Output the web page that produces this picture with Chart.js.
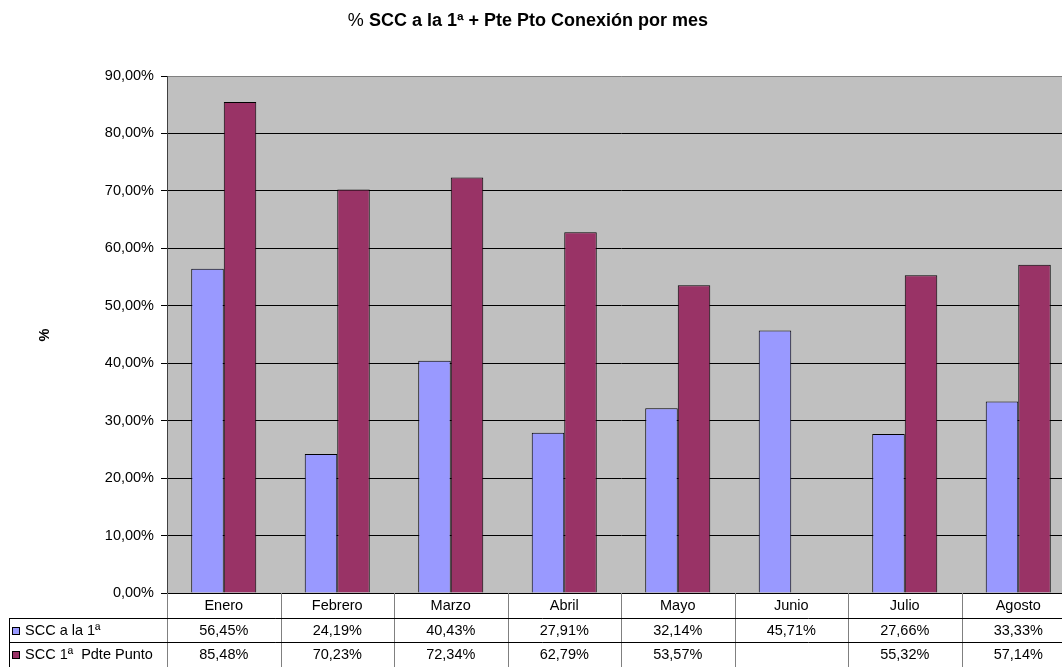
<!DOCTYPE html>
<html><head><meta charset="utf-8">
<script src="https://cdn.jsdelivr.net/npm/chart.js@4/dist/chart.umd.min.js"></script>
<style>html,body{margin:0;padding:0;background:#fff;overflow:hidden}canvas{display:block}</style>
</head><body>
<canvas id="c" width="1075" height="667" style="width:1075px;height:667px"></canvas>
<script>
const categories = ['Enero','Febrero','Marzo','Abril','Mayo','Junio','Julio','Agosto'];
const seriesNames = ['SCC a la 1ª','SCC 1ª  Pdte Punto'];
const serie1 = [56.45, 24.19, 40.43, 27.91, 32.14, 45.71, 27.66, 33.33];
const serie2 = [85.48, 70.23, 72.34, 62.79, 53.57, null, 55.32, 57.14];
const serieColors = ['#9999FF', '#993366'];
const titlePrefix = '%';
const titleMain = ' SCC a la 1ª + Pte Pto Conexión por mes';
const yAxisTitle = '%';
const yMax = 90, yStep = 10;

const FONT = '"Liberation Sans", Arial, sans-serif';
const FS = 14.5;
const fmt = v => (v === null || v === undefined) ? '' : v.toFixed(2).replace('.', ',') + '%';

const bgPlugin = {
  id: 'bg',
  beforeDraw(chart) {
    const {ctx, chartArea: a} = chart;
    ctx.save();
    ctx.fillStyle = '#C0C0C0';
    ctx.fillRect(a.left, a.top, a.right - a.left, a.bottom - a.top);
    ctx.restore();
  }
};

const extras = {
  id: 'extras',
  afterDraw(chart) {
    const {ctx, chartArea: a} = chart;
    const xs = chart.scales.x;
    ctx.save();
    // title
    ctx.textBaseline = 'middle';
    ctx.fillStyle = '#000';
    ctx.font = '18px ' + FONT;
    const w1 = ctx.measureText(titlePrefix).width;
    ctx.font = 'bold 18px ' + FONT;
    const w2 = ctx.measureText(titleMain).width;
    const tx = 528 - (w1 + w2) / 2;
    ctx.textAlign = 'left';
    ctx.font = '18px ' + FONT;
    ctx.fillText(titlePrefix, tx, 21);
    ctx.font = 'bold 18px ' + FONT;
    ctx.fillText(titleMain, tx + w1, 21);
    // y title
    ctx.save();
    ctx.translate(45, 335);
    ctx.rotate(-Math.PI / 2);
    ctx.textAlign = 'center';
    ctx.font = 'bold ' + FS + 'px ' + FONT;
    ctx.fillText(yAxisTitle, 0, 0);
    ctx.restore();

    // data table
    const n = categories.length;
    const cw = (a.right - a.left) / n;
    const rowY = [a.bottom, 618, 642, 667];
    const legendLeft = 9.5;
    ctx.strokeStyle = '#808080';
    ctx.lineWidth = 1;
    for (let i = 0; i <= n; i++) {
      const x = Math.round(xs.getPixelForValue(i) - cw / 2) + 0.5;
      ctx.beginPath(); ctx.moveTo(x, a.bottom); ctx.lineTo(x, 667); ctx.stroke();
    }
    ctx.strokeStyle = '#000';
    ctx.beginPath(); ctx.moveTo(legendLeft, rowY[1]); ctx.lineTo(legendLeft, 667); ctx.stroke();
    for (let r = 1; r <= 2; r++) {
      const y = rowY[r] + 0.5;
      ctx.beginPath(); ctx.moveTo(legendLeft, y); ctx.lineTo(a.right, y); ctx.stroke();
    }
    ctx.fillStyle = '#000';
    ctx.font = FS + 'px ' + FONT;
    ctx.textAlign = 'center';
    ctx.textBaseline = 'middle';
    const data = [serie1, serie2];
    for (let i = 0; i < n; i++) {
      const cx = xs.getPixelForValue(i);
      ctx.fillText(categories[i], cx, 606);
      ctx.fillText(fmt(data[0][i]), cx, 631);
      ctx.fillText(fmt(data[1][i]), cx, 655);
    }
    ctx.textAlign = 'left';
    const ys = [631, 655];
    for (let s = 0; s < 2; s++) {
      ctx.fillStyle = serieColors[s];
      ctx.fillRect(12.5, ys[s] - 3.5, 7, 7);
      ctx.strokeStyle = '#000';
      ctx.strokeRect(12.5, ys[s] - 3.5, 7, 7);
      ctx.fillStyle = '#000';
      ctx.fillText(seriesNames[s], 25, ys[s]);
    }
    ctx.restore();
  }
};

new Chart(document.getElementById('c'), {
  type: 'bar',
  data: {
    labels: categories,
    datasets: [
      {label: seriesNames[0], data: serie1, backgroundColor: serieColors[0], borderColor: '#000', borderWidth: 1},
      {label: seriesNames[1], data: serie2, backgroundColor: serieColors[1], borderColor: '#000', borderWidth: 1}
    ]
  },
  options: {
    responsive: false,
    animation: false,
    devicePixelRatio: 1,
    layout: {padding: {top: 76, right: 0, bottom: 0, left: 0}},
    datasets: {bar: {categoryPercentage: 0.573, barPercentage: 1.0}},
    plugins: {legend: {display: false}, tooltip: {enabled: false}, title: {display: false}},
    scales: {
      x: {
        grid: {display: false},
        border: {color: '#000', width: 1},
        ticks: {display: false},
        afterFit(s) { s.height = 74; }
      },
      y: {
        min: 0, max: yMax,
        afterFit(s) { s.width = 167; },
        border: {color: '#404040', width: 1},
        grid: {
          color: c => c.tick && c.tick.value === yMax ? '#808080' : '#000',
          tickColor: '#000',
          tickLength: 6,
          drawTicks: true
        },
        ticks: {
          stepSize: yStep,
          padding: 7,
          color: '#000',
          font: {family: FONT, size: FS},
          callback: v => fmt(v)
        }
      }
    }
  },
  plugins: [bgPlugin, extras]
});
</script>
</body></html>
